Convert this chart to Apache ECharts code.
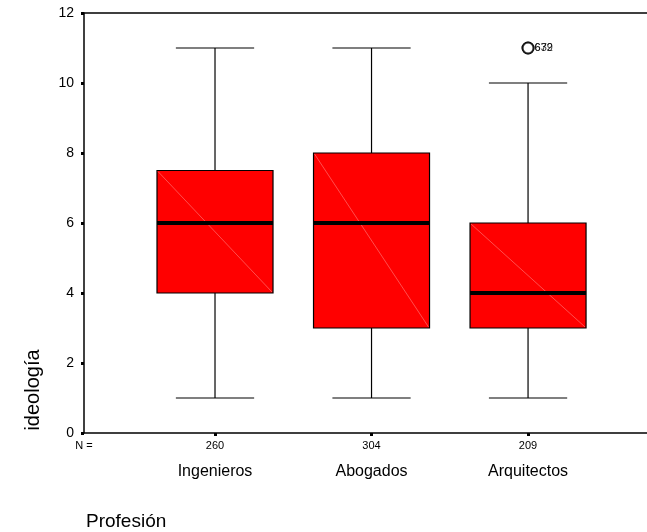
<!DOCTYPE html>
<html>
<head>
<meta charset="utf-8">
<script src="https://cdn.jsdelivr.net/npm/echarts@6/dist/echarts.min.js"></script>
<style>html,body{margin:0;padding:0;background:#fff;}#c{width:647px;height:532px;}</style>
</head>
<body>
<div id="c"></div>
<script>
var categories = ['Ingenieros', 'Abogados', 'Arquitectos'];
var nCounts = [260, 304, 209];
var whiskerLow = [1, 1, 1];
var q1 = [4, 3, 3];
var median = [6, 6, 4];
var q3 = [7.5, 8, 6];
var whiskerHigh = [11, 11, 10];
var outlierGroup = [3, 3];
var outlierValue = [11, 11];
var outlierLabel = ['639', '672'];
var yTicks = [0, 2, 4, 6, 8, 10, 12];

var FONT = '"Liberation Sans", Arial, sans-serif';
var boxData = categories.map(function (c, i) {
  return [i + 1, whiskerLow[i], q1[i], median[i], q3[i], whiskerHigh[i]];
});
var outData = outlierGroup.map(function (g, i) {
  return { value: [g, outlierValue[i]], name: outlierLabel[i] };
});
var HALF = 0.3706, CAP = 0.25;
var XMIN = 0.163, XMAX = 3.76;

var chart = echarts.init(document.getElementById('c'), null, { renderer: 'canvas' });
chart.setOption({
  animation: false,
  backgroundColor: '#fff',
  grid: { left: 84, right: 0, top: 13, height: 420, containLabel: false },
  xAxis: [{
    type: 'value', min: XMIN, max: XMAX, position: 'bottom',
    axisLine: { show: true, lineStyle: { color: '#000', width: 1.5 } },
    axisTick: { show: true, customValues: [1, 2, 3], length: 3, lineStyle: { color: '#000', width: 3 } },
    splitLine: { show: false },
    axisLabel: {
      customValues: [XMIN, 1, 2, 3], margin: 7, color: '#000', fontFamily: FONT,
      formatter: function (v) {
        if (v < 0.5) return '{n|N =}';
        var i = Math.round(v) - 1;
        return '{n|' + nCounts[i] + '}\n{c|' + categories[i] + '}';
      },
      rich: {
        n: { fontSize: 11, lineHeight: 12, fontFamily: FONT, color: '#000' },
        c: { fontSize: 16, lineHeight: 40, fontFamily: FONT, color: '#000' }
      }
    }
  }, {
    type: 'value', min: XMIN, max: XMAX, position: 'top',
    axisLine: { show: true, lineStyle: { color: '#000', width: 1.5 } },
    axisTick: { show: false }, axisLabel: { show: false }, splitLine: { show: false }
  }],
  yAxis: {
    type: 'value', min: 0, max: 12, interval: 2,
    axisLine: { show: true, lineStyle: { color: '#000', width: 1.5 } },
    axisTick: { show: true, length: 3, lineStyle: { color: '#000', width: 3 } },
    splitLine: { show: false },
    axisLabel: { margin: 10, fontSize: 14, color: '#000', fontFamily: FONT,
      customValues: yTicks }
  },
  title: {
    text: 'Profesión', left: 81, top: 507,
    textStyle: { fontSize: 19, fontWeight: 'normal', color: '#000', fontFamily: FONT }
  },
  graphic: [{
    type: 'text', x: 33, y: 390, rotation: Math.PI / 2,
    style: { text: 'ideología', fontSize: 20, fontFamily: FONT, fill: '#000',
      textAlign: 'center', textVerticalAlign: 'middle' }
  }],
  series: [{
    type: 'custom',
    data: boxData,
    renderItem: function (params, api) {
      var x = api.value(0);
      var lo = api.coord([x, api.value(1)]);
      var pq1 = api.coord([x, api.value(2)]);
      var pm = api.coord([x, api.value(3)]);
      var pq3 = api.coord([x, api.value(4)]);
      var hi = api.coord([x, api.value(5)]);
      var left = api.coord([x - HALF, 0])[0];
      var right = api.coord([x + HALF, 0])[0];
      var cl = api.coord([x - CAP, 0])[0];
      var cr = api.coord([x + CAP, 0])[0];
      var blk = { stroke: '#000', lineWidth: 1.2 };
      return {
        type: 'group',
        children: [
          { type: 'line', shape: { x1: lo[0], y1: lo[1], x2: pq1[0], y2: pq1[1] }, style: blk },
          { type: 'line', shape: { x1: hi[0], y1: hi[1], x2: pq3[0], y2: pq3[1] }, style: blk },
          { type: 'line', shape: { x1: cl, y1: lo[1], x2: cr, y2: lo[1] }, style: blk },
          { type: 'line', shape: { x1: cl, y1: hi[1], x2: cr, y2: hi[1] }, style: blk },
          { type: 'rect', shape: { x: left, y: pq3[1], width: right - left, height: pq1[1] - pq3[1] },
            style: { fill: '#ff0000', stroke: '#000', lineWidth: 1.2 } },
          { type: 'line', shape: { x1: left + 1, y1: pq3[1] + 1, x2: right - 1, y2: pq1[1] - 1 },
            style: { stroke: 'rgba(255,140,140,0.7)', lineWidth: 0.8 } },
          { type: 'line', shape: { x1: left, y1: pm[1], x2: right, y2: pm[1] },
            style: { stroke: '#000', lineWidth: 4 } }
        ]
      };
    }
  }, {
    type: 'scatter',
    data: outData,
    symbol: 'circle', symbolSize: 11,
    itemStyle: { color: '#fff', borderColor: '#000', borderWidth: 2 },
    label: { show: true, position: 'right', distance: 0, formatter: '{b}',
      fontSize: 11, fontFamily: FONT, color: '#000' }
  }]
});
</script>
</body>
</html>
